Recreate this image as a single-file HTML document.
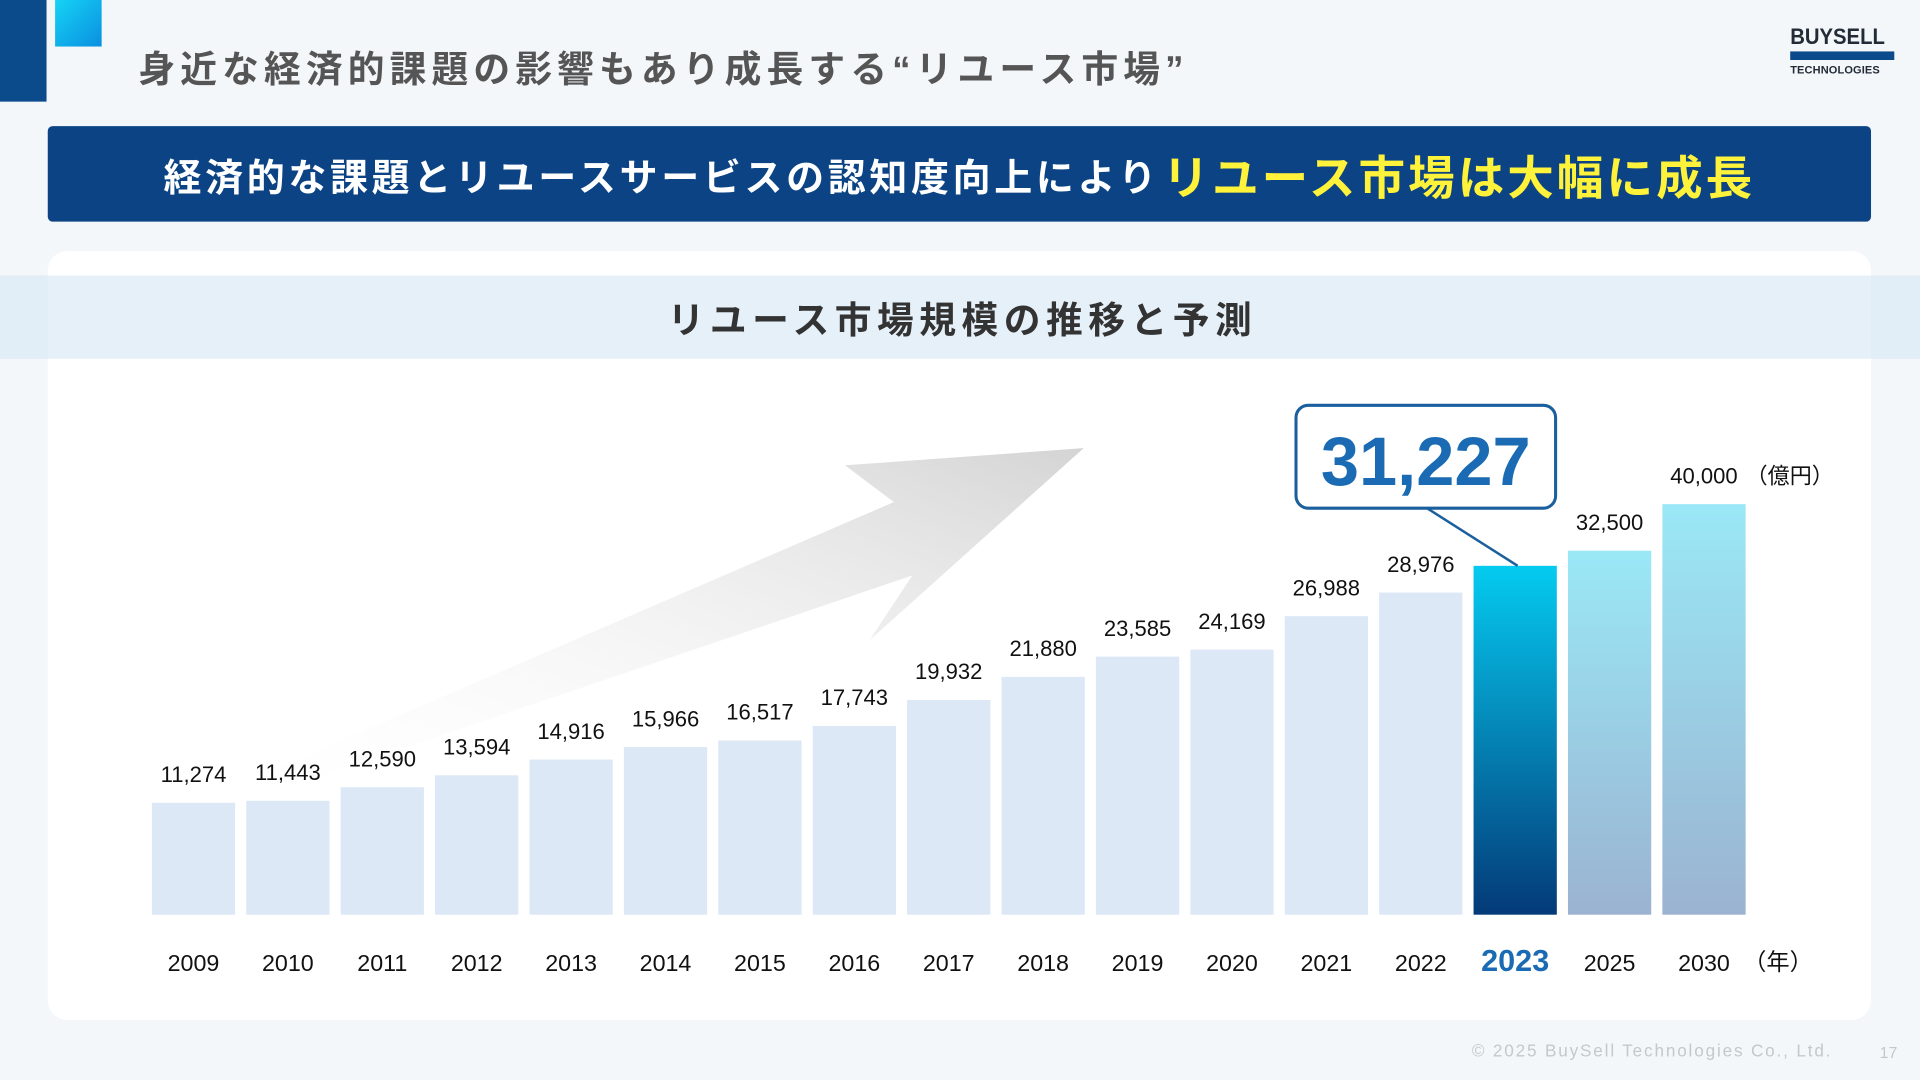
<!DOCTYPE html>
<html><head><meta charset="utf-8">
<style>
html,body{margin:0;padding:0;width:1920px;height:1080px;overflow:hidden;background:#f3f7fa;}
#stage{position:absolute;left:0;top:0;width:1568px;height:882px;transform:scale(1.2244898);transform-origin:0 0;font-family:"Liberation Sans","Noto Sans CJK JP",sans-serif;}
.abs{position:absolute;}
</style></head><body>
<div id="stage">
  <div class="abs" style="left:0;top:0;width:38px;height:83px;background:#0b4a8b"></div>
  <div class="abs" style="left:45px;top:0;width:38px;height:38px;background:linear-gradient(135deg,#16d3f5,#0a8fe0)"></div>
  <div class="abs" style="left:113px;top:32px;font-size:30px;font-weight:bold;color:#555;letter-spacing:4.2px;white-space:nowrap">身近な経済的課題の影響もあり成長する“リユース市場”</div>
  <div class="abs" style="left:1462px;top:20px;width:85px">
    <div style="font-size:18px;font-weight:900;color:#222b36;line-height:20px;transform:scaleX(0.92);transform-origin:0 0">BUYSELL</div>
    <div style="height:7px;background:#0b4a8b;margin-top:2px"></div>
    <div style="font-size:9px;font-weight:900;color:#222b36;margin-top:3px;letter-spacing:0.1px">TECHNOLOGIES</div>
  </div>
  <div class="abs" style="left:39px;top:103px;width:1489px;height:78px;background:#0b4384;border-radius:4px;display:flex;align-items:center;justify-content:center;white-space:nowrap;color:#fff;font-weight:bold;font-size:31px;letter-spacing:3px">
    <span>経済的な課題とリユースサービスの認知度向上により</span><span style="color:#fff23a;font-size:38px;margin-left:2px;letter-spacing:2.5px">リユース市場は大幅に成長</span>
  </div>
  <div class="abs" style="left:39px;top:205px;width:1489px;height:628px;background:#fff;border-radius:16px"></div>
  <div class="abs" style="left:0;top:225px;width:1568px;height:68px;background:rgba(214,230,245,0.6);display:flex;align-items:center;justify-content:center">
    <span style="font-size:30px;font-weight:bold;color:#333;letter-spacing:4.5px;margin-left:4px">リユース市場規模の推移と予測</span>
  </div>
  <svg class="abs" id="chart" style="left:0;top:0" width="1568" height="882">
    <defs>
      <linearGradient id="arrowG" x1="0" y1="1" x2="1" y2="0">
        <stop offset="0" stop-color="#ffffff" stop-opacity="0"/>
        <stop offset="1" stop-color="#d4d4d4"/>
      </linearGradient>
      <linearGradient id="g2023" x1="0" y1="0" x2="0" y2="1">
        <stop offset="0" stop-color="#05cbf0"/><stop offset="1" stop-color="#043a78"/>
      </linearGradient>
      <linearGradient id="gFc" x1="0" y1="0" x2="0" y2="1">
        <stop offset="0" stop-color="#9ae8f7"/><stop offset="1" stop-color="#9bb3d0"/>
      </linearGradient>
    </defs>
    <polygon fill="url(#arrowG)" points="160,656 730,410 690,380 885,366 710,523 745,470 185,660"/>
    <g id="bars"></g>
  </svg>
  <div class="abs" style="left:1202px;top:850px;font-size:14px;color:#c4c8cc;letter-spacing:1.5px">© 2025 BuySell Technologies Co., Ltd.</div>
  <div class="abs" style="left:1535px;top:852px;font-size:13px;color:#c4c8cc">17</div>
</div>
<script>
const years = ["2009","2010","2011","2012","2013","2014","2015","2016","2017","2018","2019","2020","2021","2022","2023","2025","2030"];
const values = [11274,11443,12590,13594,14916,15966,16517,17743,19932,21880,23585,24169,26988,28976,31227,32500,40000];
const highlightYear = "2023";
const forecastYears = ["2025","2030"];
const NS="http://www.w3.org/2000/svg";
const baseY=747, x0=124, pitch=77.1, bw=68;
// broken axis: compressed above the break value
const breakV=32500, k1=0.0097, off=-18, k2=0.00507;
function xPos(i){return x0+i*pitch;}
function hOf(v){return v<=breakV? off+k1*v : off+k1*breakV+k2*(v-breakV);}
function yPos(v){return baseY-hOf(v);}
const g=document.getElementById('bars');
function mk(tag,attrs){const e=document.createElementNS(NS,tag);for(const k in attrs)e.setAttribute(k,attrs[k]);return e;}
years.forEach((yr,i)=>{
  const v=values[i], x=xPos(i), y=yPos(v);
  const isH=yr===highlightYear, isF=forecastYears.includes(yr);
  const r=mk('rect',{x:x,y:y,width:bw,height:baseY-y,fill:isH?'url(#g2023)':isF?'url(#gFc)':'#dce8f5'});
  
  
  g.appendChild(r);
  const t=mk('text',{x:x+bw/2,y:baseY+46,'text-anchor':'middle','font-size':isH?25:19,'font-weight':isH?'bold':'normal',fill:isH?'#1a6bb3':'#111'});
  t.textContent=yr;
  
  
  g.appendChild(t);
  if(!isH){
    const vl=mk('text',{x:x+bw/2,y:y-17,'text-anchor':'middle','font-size':18,'font-weight':'normal',fill:'#111'});
    vl.textContent=v.toLocaleString('en-US');
    
    
    g.appendChild(vl);
    if(yr==='2030'){
      const u=mk('text',{x:x+bw/2+34,y:y-17,'text-anchor':'start','font-size':18,fill:'#111'});
      u.textContent='（億円）';
      
      
      g.appendChild(u);
      const yu=mk('text',{x:x+bw-2,y:baseY+45,'font-size':19,fill:'#111'});
      yu.textContent='（年）';
      
      
      g.appendChild(yu);
    }
  } else {
    const cx=x+bw/2-72;
    const ln=mk('line',{x1:cx,y1:415,x2:x+bw/2+2,y2:y,stroke:'#1a5f9e','stroke-width':2});
    
    
    g.appendChild(ln);
    const box=mk('rect',{x:cx-107,y:331,width:212,height:84,rx:10,fill:'#fff',stroke:'#1a5f9e','stroke-width':2.5});
    
    
    g.appendChild(box);
    const ct=mk('text',{x:cx-1,y:396,'text-anchor':'middle','font-size':56,'font-weight':'bold',fill:'#1a6bb3'});
    ct.textContent=v.toLocaleString('en-US');
    
    
    g.appendChild(ct);
  }
});
</script>
</body></html>
